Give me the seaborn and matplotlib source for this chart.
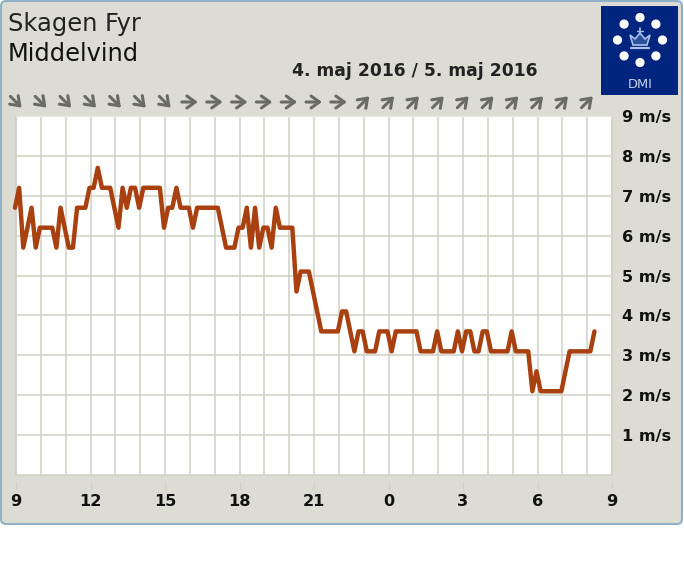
import numpy as np
import pandas as pd
import matplotlib
matplotlib.use("Agg")
import matplotlib.pyplot as plt
import matplotlib.transforms as mtransforms
from matplotlib.patches import FancyBboxPatch, Rectangle, Circle, Polygon
import seaborn as sns

# wind speed, one reading every 10 minutes
wind = [
    6.7, 7.2, 5.7, 6.2, 6.7, 5.7, 6.2, 6.2, 6.2, 6.2, 5.7, 6.7, 6.2, 5.7, 5.7, 6.7,
    6.7, 6.7, 7.2, 7.2, 7.7, 7.2, 7.2, 7.2, 6.7, 6.2, 7.2, 6.7, 7.2, 7.2, 6.7, 7.2,
    7.2, 7.2, 7.2, 7.2, 6.2, 6.7, 6.7, 7.2, 6.7, 6.7, 6.7, 6.2, 6.7, 6.7, 6.7, 6.7,
    6.7, 6.7, 6.2, 5.7, 5.7, 5.7, 6.2, 6.2, 6.7, 5.7, 6.7, 5.7, 6.2, 6.2, 5.7, 6.7,
    6.2, 6.2, 6.2, 6.2, 4.6, 5.1, 5.1, 5.1, 4.6, 4.1, 3.6, 3.6, 3.6, 3.6, 3.6, 4.1,
    4.1, 3.6, 3.1, 3.6, 3.6, 3.1, 3.1, 3.1, 3.6, 3.6, 3.6, 3.1, 3.6, 3.6, 3.6, 3.6,
    3.6, 3.6, 3.1, 3.1, 3.1, 3.1, 3.6, 3.1, 3.1, 3.1, 3.1, 3.6, 3.1, 3.6, 3.6, 3.1,
    3.1, 3.6, 3.6, 3.1, 3.1, 3.1, 3.1, 3.1, 3.6, 3.1, 3.1, 3.1, 3.1, 2.1, 2.6, 2.1,
    2.1, 2.1, 2.1, 2.1, 2.1, 2.6, 3.1, 3.1, 3.1, 3.1, 3.1, 3.1, 3.6,
]
hour_labels = ["9", "12", "15", "18", "21", "0", "3", "6", "9"]
speed_labels = ["1 m/s", "2 m/s", "3 m/s", "4 m/s", "5 m/s", "6 m/s", "7 m/s", "8 m/s", "9 m/s"]
# arrow direction per hour, degrees counter clockwise from east
wind_dirs = [-45] * 7 + [0] * 7 + [45] * 10

BG = "#dcdcd4"
GRID = "#cfcfc4"
W, H = 684, 566

sns.set_theme(style="whitegrid", rc={
    "font.family": "DejaVu Sans",
    "figure.facecolor": "white",
    "axes.facecolor": "white",
    "grid.color": GRID,
    "grid.linewidth": 1.1,
    "text.color": "#111111",
    "xtick.color": "#111111",
    "ytick.color": "#111111",
    "xtick.bottom": True,
})

fig = plt.figure(figsize=(W / 100, H / 100), dpi=100)

# panel behind everything, in pixel coordinates
bg = fig.add_axes([0, 0, 1, 1], zorder=0)
bg.set_xlim(0, W)
bg.set_ylim(H, 0)
bg.axis("off")
bg.add_patch(FancyBboxPatch((1, 1), W - 3, 523, boxstyle="round,pad=0,rounding_size=5",
                            fc=BG, ec="#8fb0c6", lw=1.5))

# DMI logo
logo_x, logo_y = 640, 40
bg.add_patch(Rectangle((601, 6), 77, 89, fc="#00257f", ec="none"))
for a in np.arange(0, 360, 45):
    bg.add_patch(Circle((logo_x + 22.5 * np.sin(np.radians(a)), logo_y - 22.5 * np.cos(np.radians(a))),
                        4.6, fc="white", ec="none"))
bg.add_patch(Polygon([(630, 35), (635, 39), (640, 33), (645, 39), (650, 35), (647, 45), (633, 45)],
                     closed=True, fc="#2d4f9c", ec="#a9bfe6", lw=1.2))
bg.plot([631, 649], [48, 48], color="#a9bfe6", lw=1.6)
bg.plot([640, 640], [28, 34], color="#a9bfe6", lw=1.2)
bg.plot([637, 643], [31, 31], color="#a9bfe6", lw=1.0)
bg.text(640, 84, "DMI", color="#c4d3ee", fontsize=9.4, ha="center", va="center")

bg.text(8, 24, "Skagen Fyr", fontsize=17.4, color="#222222", va="center", ha="left")
bg.text(8, 54, "Middelvind", fontsize=17.4, color="#111111", va="center", ha="left")
bg.text(414.5, 71, "4. maj 2016 / 5. maj 2016", fontsize=12.3, fontweight="bold",
        color="#222222", va="center", ha="center")

# main plot
ax = fig.add_axes([16 / W, 1 - 475 / H, 596 / W, 359 / H], zorder=2)
df = pd.DataFrame({"hour": np.arange(len(wind)) / 6 - 0.04, "wind": wind})
sns.lineplot(data=df, x="hour", y="wind", ax=ax, color="#a8400f", linewidth=3.2,
             solid_joinstyle="round", errorbar=None, clip_on=False, zorder=5)

ax.set_xlim(0, 24)
ax.set_ylim(0, 9)
ax.set_xlabel("")
ax.set_ylabel("")

# moving the spine resets the ticks, so this comes before the tick styling
for side in ["left", "right", "top"]:
    ax.spines[side].set_visible(False)
ax.spines["bottom"].set_position(("outward", 5))
ax.spines["bottom"].set_visible(False)

ax.set_xticks(np.arange(0, 25, 3))
ax.set_xticklabels(hour_labels)
ax.set_xticks(np.arange(0, 25), minor=True)
ax.set_yticks(np.arange(1, 10))
ax.set_yticklabels(speed_labels)
ax.yaxis.tick_right()
ax.grid(True, which="major", color=GRID, lw=1.1)
ax.grid(True, which="minor", axis="x", color=GRID, lw=1.1)
ax.tick_params(axis="x", which="major", length=6, width=0.8, color=GRID, pad=2.5, labelsize=11.6)
ax.tick_params(axis="x", which="minor", length=0)
ax.tick_params(axis="y", length=0, pad=7, labelsize=11.6)
plt.setp(ax.get_xticklabels() + ax.get_yticklabels(), fontweight="bold")
for h in [0, 24]:
    ax.axvline(h, color=GRID, lw=1.1, clip_on=False, zorder=1)
ax.axhline(0, color=GRID, lw=1.1, clip_on=False, zorder=1)
ax.axhline(9, color="#e8e8e2", lw=1.0, clip_on=False, zorder=1)

# wind direction arrows above the plot
arrow_len = 11.5
for h, d in enumerate(wind_dirs):
    dx = arrow_len / 2 * np.cos(np.radians(d))
    dy = arrow_len / 2 * np.sin(np.radians(d))
    base = ax.get_xaxis_transform()
    tail = mtransforms.offset_copy(base, fig=fig, x=-dx, y=-dy, units="points")
    tip = mtransforms.offset_copy(base, fig=fig, x=dx, y=dy, units="points")
    ax.annotate("", xy=(h, 1.039), xycoords=tip, xytext=(h, 1.039), textcoords=tail,
                arrowprops=dict(arrowstyle="->,head_length=0.5,head_width=0.36", color="#6a6a66",
                                lw=2.2, shrinkA=0, shrinkB=0), annotation_clip=False)

fig.savefig("out.png", dpi=100)
